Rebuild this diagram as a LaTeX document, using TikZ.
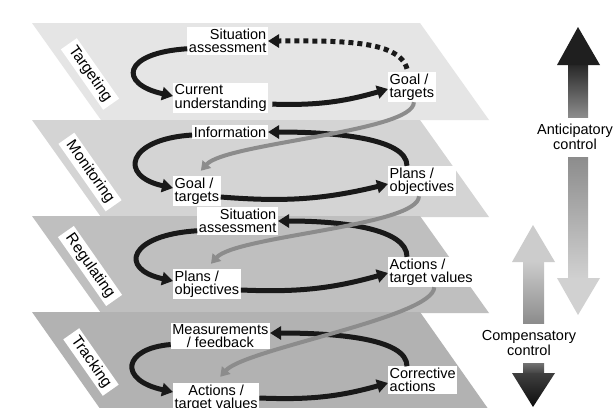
\documentclass[tikz,border=0pt]{standalone}
\usepackage{fontspec}
\setmainfont{Liberation Sans}
\usepackage{tikz}
\usetikzlibrary{
  arrows.meta,
  calc
}

\begin{document}
\begin{tikzpicture}[x=1pt, y=1pt, >={Triangle[length=11pt,width=13pt]},
  box/.style={fill=white, inner sep=1.5pt, font=\fontsize{14.5}{13.5}\selectfont},
  side/.style={box, rotate=-55, inner xsep=5pt, inner ysep=2.5pt, font=\fontsize{15.5}{15}\selectfont},
  blk/.style={->, line width=5pt, black!90},
  gry/.style={-{Triangle[length=9pt,width=11pt]}, line width=4pt, black!45}]
\clip (0,0) rectangle (613,-407);
\fill[white] (0,0) rectangle (613,-407);

% the four planes
\fill[black!10] (32,-23) -- (420,-23) -- (489,-120) -- (101,-120) -- cycle;
\fill[black!17] (32,-120) -- (420,-120) -- (489,-217) -- (101,-217) -- cycle;
\fill[black!25] (32,-216) -- (420,-216) -- (489,-313) -- (101,-313) -- cycle;
\fill[black!30] (32,-312) -- (420,-312) -- (496,-420) -- (108,-420) -- cycle;

\node[side] (lt) at (90,-74) {Targeting};
\node[side] (lm) at (90,-172) {Monitoring};
\node[side] (lr) at (90,-266) {Regulating};
\node[side] (lk) at (91,-362) {Tracking};

% targeting
\node[box,align=right,anchor=east] (sa1) at (268,-41) {Situation\\assessment};
\node[box,align=left,anchor=west] (cu1) at (173,-98) {Current\\understanding};
\node[box,align=left,anchor=west] (gt1) at (388,-87) {Goal /\\targets};
% monitoring
\node[box,anchor=east] (in2) at (268,-132) {Information};
\node[box,align=left,anchor=west] (gt2) at (173,-191) {Goal /\\targets};
\node[box,align=left,anchor=west] (po2) at (388,-181) {Plans /\\objectives};
% regulating
\node[box,align=right,anchor=east] (sa3) at (278,-221) {Situation\\assessment};
\node[box,align=left,anchor=west] (po3) at (173,-284) {Plans /\\objectives};
\node[box,align=left,anchor=west] (at3) at (388,-272) {Actions /\\target values};
% tracking
\node[box,align=center,anchor=east] (mf4) at (270,-336) {Measurements\\/ feedback};
\node[box,align=center,anchor=west] (at4) at (173,-398) {Actions /\\target values};
\node[box,align=left,anchor=west] (ca4) at (388,-380) {Corrective\\actions};

% loops
\draw[blk] ([yshift=6]sa1.south west) .. controls +(-65,-4) and +(-55,12) .. ([yshift=2]cu1.west);
\draw[blk,shorten <=4pt] ([yshift=-6]cu1.east) to[bend right=9] ([yshift=-2]gt1.west);
\draw[blk,dash pattern=on 5pt off 4pt] ([xshift=19,yshift=3]gt1.north west) .. controls +(-8,30) and +(65,0) .. (sa1.east);

\draw[blk] ([yshift=4]in2.south west) .. controls +(-65,-4) and +(-55,12) .. ([yshift=3]gt2.west);
\draw[blk] ([yshift=-6]gt2.east) to[bend right=9] ([yshift=-3]po2.west);
\draw[blk] ([xshift=19]po2.north west) .. controls +(0,28) and +(65,0) .. (in2.east);

\draw[blk] ([yshift=4]sa3.south west) .. controls +(-68,-4) and +(-55,12) .. ([yshift=3]po3.west);
\draw[blk] ([yshift=-6]po3.east) to[bend right=9] ([yshift=-1]at3.west);
\draw[blk] ([xshift=19]at3.north west) .. controls +(0,28) and +(65,0) .. (sa3.east);

\draw[blk] ([yshift=5]mf4.south west) .. controls +(-48,-4) and +(-55,12) .. ([yshift=6]at4.west);
\draw[blk] ([yshift=0]at4.east) to[bend right=9] ([yshift=-3]ca4.west);
\draw[blk] ([xshift=19]ca4.north west) .. controls +(0,28) and +(65,0) .. ([yshift=3]mf4.east);

% links between the planes
\draw[gry] ([xshift=2]gt1.south) .. controls +(0,-30) and +(25,28) .. ([xshift=4,yshift=5]gt2.north);
\draw[gry] ([xshift=-3]po2.south) .. controls +(0,-30) and +(25,28) .. ([xshift=4,yshift=5]po3.north);
\draw[gry] ([xshift=3]at3.south) .. controls +(0,-30) and +(25,28) .. ([xshift=4,yshift=6]at4.north);

% control arrows
\shade[top color=black!85, bottom color=black!45] (568,-64) rectangle (588,-117);
\fill[black!88] (557,-65) -- (578,-27) -- (600,-65) -- cycle;
\node[box,fill=none,align=center] (ant) at (575,-137) {Anticipatory\\control};
\shade[top color=black!45, bottom color=black!18] (568,-157) rectangle (588,-279);
\fill[black!18] (557,-278) -- (578,-315) -- (600,-278) -- cycle;

\fill[black!20] (512,-262) -- (533,-225) -- (555,-262) -- cycle;
\shade[top color=black!20, bottom color=black!45] (523,-261) rectangle (544,-323);
\node[box,fill=none,align=center] (cmp) at (529,-343) {Compensatory\\control};
\shade[top color=black!55, bottom color=black!75] (523,-363) rectangle (544,-374);
\shade[top color=black!75, bottom color=black!95] (512,-373) -- (533,-407) -- (555,-373) -- cycle;
\end{tikzpicture}
\end{document}
